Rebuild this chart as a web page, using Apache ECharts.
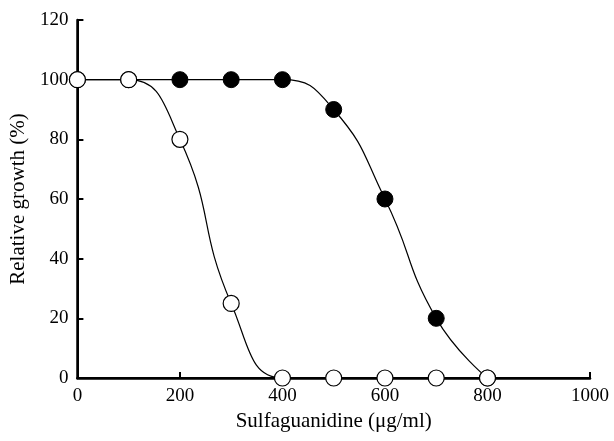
<!DOCTYPE html>
<html>
<head>
<meta charset="utf-8">
<script src="https://cdn.jsdelivr.net/npm/echarts@6/dist/echarts.min.js"></script>
<style>
  html, body { margin: 0; padding: 0; background: #fff; }
  #chart { width: 614px; height: 441px; }
</style>
</head>
<body>
<div id="chart"></div>
<script>
// sulfaguanidine concentration (ug/ml)
const filledX = [0, 100, 200, 300, 400, 500, 600, 700, 800];
const filledY = [100, 100, 100, 100, 100, 90, 60, 20, 0];
const openX = [0, 100, 200, 300, 400, 500, 600, 700, 800];
const openY = [100, 100, 80, 25, 0, 0, 0, 0, 0];

const font = '"Liberation Serif", "DejaVu Serif", serif';

function pairs(xs, ys) {
  return xs.map((x, i) => [x, ys[i]]);
}

let chart = echarts.init(document.getElementById('chart'), null, { renderer: 'canvas' });
chart.setOption({
  animation: false,
  grid: { left: 77, right: 24, top: 20, bottom: 63 },
  xAxis: [
    {
      type: 'value', min: 0, max: 1000, interval: 200,
      name: 'Sulfaguanidine (\u03bcg/ml)', nameLocation: 'middle', nameGap: 31,
      nameTextStyle: { fontFamily: font, fontSize: 21, color: '#000' },
      axisLine: { lineStyle: { color: '#000', width: 2.5 } },
      axisTick: { inside: true, length: 6, lineStyle: { color: '#000', width: 2 } },
      axisLabel: { fontFamily: font, fontSize: 19, color: '#000', margin: 9, formatter: v => String(v) },
      splitLine: { show: false }
    },
    {
      type: 'value', min: 0, max: 1000, position: 'top',
      axisLine: { show: true, lineStyle: { color: '#000', width: 2 } },
      axisTick: { show: false }, axisLabel: { show: false }, splitLine: { show: false }
    }
  ],
  yAxis: [
    {
      type: 'value', min: 0, max: 120, interval: 20,
      name: 'Relative growth (%)', nameLocation: 'middle', nameGap: 47,
      nameTextStyle: { fontFamily: font, fontSize: 21, color: '#000' },
      axisLine: { show: true, lineStyle: { color: '#000', width: 2.5 } },
      axisTick: { show: true, inside: true, length: 6, lineStyle: { color: '#000', width: 2 } },
      axisLabel: { fontFamily: font, fontSize: 19, color: '#000', margin: 9 },
      splitLine: { show: false }
    },
    {
      type: 'value', min: 0, max: 120, position: 'right',
      axisLine: { show: true, lineStyle: { color: '#000', width: 2 } },
      axisTick: { show: false }, axisLabel: { show: false }, splitLine: { show: false }
    }
  ],
  series: [
    {
      type: 'line',
      data: pairs(filledX, filledY),
      smooth: 0.5,
      symbol: 'circle',
      symbolSize: 16,
      itemStyle: { color: '#000', borderColor: '#000', borderWidth: 1 },
      lineStyle: { color: '#000', width: 1.2 },
      z: 2
    },
    {
      type: 'line',
      data: pairs(openX, openY),
      smooth: 0.5,
      symbol: 'circle',
      symbolSize: 16,
      itemStyle: { color: '#fff', borderColor: '#000', borderWidth: 1.2 },
      lineStyle: { color: '#000', width: 1.2 },
      z: 3
    }
  ]
});
</script>
</body>
</html>
